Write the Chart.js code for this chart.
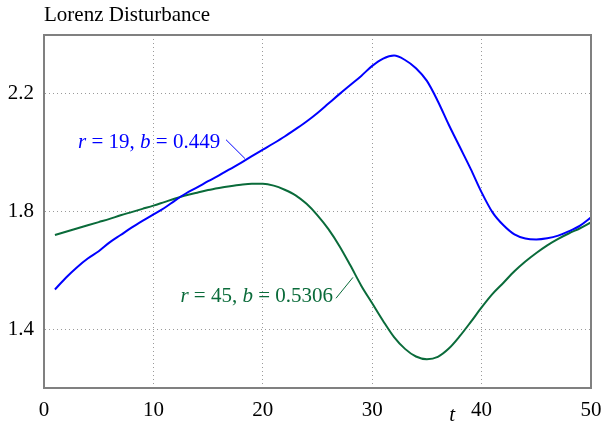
<!DOCTYPE html>
<html>
<head>
<meta charset="utf-8">
<script src="https://cdn.jsdelivr.net/npm/chart.js@4/dist/chart.umd.min.js"></script>
<style>
  html, body { margin: 0; padding: 0; background: #fff; }
  #wrap { position: relative; width: 602px; height: 425px; }
</style>
</head>
<body>
<div id="wrap"><canvas id="chart" width="602" height="425"></canvas></div>
<script>
const tValues = [];
for (let i = 1; i <= 50; i++) tValues.push(i);

// r = 19, b = 0.449
const blueSeries = [
  1.535, 1.575, 1.61, 1.64, 1.665, 1.695, 1.72, 1.745, 1.768, 1.79,
  1.812, 1.838, 1.862, 1.882, 1.903, 1.923, 1.944, 1.965, 1.988, 2.01,
  2.032, 2.055, 2.08, 2.106, 2.135, 2.167, 2.199, 2.23, 2.261, 2.295,
  2.32, 2.33, 2.315, 2.287, 2.244, 2.175, 2.095, 2.02, 1.945, 1.865,
  1.797, 1.753, 1.722, 1.708, 1.705, 1.709, 1.718, 1.733, 1.752, 1.78
];

// r = 45, b = 0.5306
const greenSeries = [
  1.72, 1.731, 1.742, 1.753, 1.764, 1.775, 1.787, 1.798, 1.809, 1.82,
  1.832, 1.844, 1.855, 1.864, 1.873, 1.88, 1.886, 1.891, 1.894, 1.894,
  1.888, 1.874, 1.855, 1.826, 1.787, 1.74, 1.683, 1.617, 1.548, 1.488,
  1.428, 1.373, 1.333, 1.307, 1.298, 1.306, 1.334, 1.376, 1.424, 1.474,
  1.52, 1.558, 1.597, 1.63, 1.659, 1.685, 1.707, 1.726, 1.743, 1.763
];

const xTickValues = [0, 10, 20, 30, 40, 50];
const yTickValues = [1.4, 1.8, 2.2];

const BLUE = "#0000ff";
const GREEN = "#0a6b3a";
const SERIF = "'Liberation Serif', 'Times New Roman', serif";
const FS = 21;

// label pieces: [text, italic]
const blueLabel = [["r", true], [" = 19, ", false], ["b", true], [" = 0.449", false]];
const greenLabel = [["r", true], [" = 45, ", false], ["b", true], [" = 0.5306", false]];

const toPoints = (ys) => ys.map((y, i) => ({ x: tValues[i], y: y }));

function drawLabel(ctx, pieces, rightX, baseY, color) {
  let total = 0;
  pieces.forEach(([txt, it]) => {
    ctx.font = (it ? "italic " : "") + FS + "px " + SERIF;
    total += ctx.measureText(txt).width;
  });
  let x = rightX - total;
  ctx.fillStyle = color;
  ctx.textBaseline = "alphabetic";
  ctx.textAlign = "left";
  pieces.forEach(([txt, it]) => {
    ctx.font = (it ? "italic " : "") + FS + "px " + SERIF;
    ctx.fillText(txt, x, baseY);
    x += ctx.measureText(txt).width;
  });
}

const decorations = {
  id: "decorations",
  afterDraw(chart) {
    const { ctx, chartArea: a, scales } = chart;
    const xs = scales.x, ys = scales.y;
    ctx.save();

    // frame
    ctx.strokeStyle = "#808080";
    ctx.lineWidth = 2;
    ctx.strokeRect(a.left, a.top, a.right - a.left, a.bottom - a.top);

    // title
    ctx.fillStyle = "#000";
    ctx.font = FS + "px " + SERIF;
    ctx.textAlign = "left";
    ctx.textBaseline = "alphabetic";
    ctx.fillText("Lorenz Disturbance", a.left, 21);

    // axis name
    ctx.font = "italic " + FS + "px " + SERIF;
    ctx.textAlign = "center";
    ctx.fillText("t", xs.getPixelForValue(37.3), 421);

    // curve labels with leader lines
    drawLabel(ctx, blueLabel, xs.getPixelForValue(16.1), ys.getPixelForValue(2.017), BLUE);
    ctx.strokeStyle = BLUE;
    ctx.lineWidth = 1;
    ctx.beginPath();
    ctx.moveTo(xs.getPixelForValue(16.64), ys.getPixelForValue(2.044));
    ctx.lineTo(xs.getPixelForValue(18.37), ys.getPixelForValue(1.98));
    ctx.stroke();

    drawLabel(ctx, greenLabel, xs.getPixelForValue(26.42), ys.getPixelForValue(1.4915), GREEN);
    ctx.strokeStyle = GREEN;
    ctx.beginPath();
    ctx.moveTo(xs.getPixelForValue(26.69), ys.getPixelForValue(1.505));
    ctx.lineTo(xs.getPixelForValue(28.24), ys.getPixelForValue(1.576));
    ctx.stroke();

    ctx.restore();
  }
};

const gridColor = (ctx) => {
  const v = ctx.tick && ctx.tick.value;
  return (v === 0 || v === 50) ? "rgba(0,0,0,0)" : "#9a9a9a";
};

new Chart(document.getElementById("chart").getContext("2d"), {
  type: "line",
  data: {
    datasets: [
      {
        label: "r = 19, b = 0.449",
        data: toPoints(blueSeries),
        borderColor: BLUE,
        borderWidth: 2,
        pointRadius: 0,
        cubicInterpolationMode: "monotone",
        fill: false
      },
      {
        label: "r = 45, b = 0.5306",
        data: toPoints(greenSeries),
        borderColor: GREEN,
        borderWidth: 2,
        pointRadius: 0,
        cubicInterpolationMode: "monotone",
        fill: false
      }
    ]
  },
  options: {
    responsive: false,
    animation: false,
    layout: { padding: { top: 35, right: 11, left: 0, bottom: 0 } },
    plugins: {
      legend: { display: false },
      tooltip: { enabled: false },
      title: { display: false }
    },
    scales: {
      x: {
        type: "linear",
        min: 0,
        max: 50,
        afterBuildTicks: (scale) => { scale.ticks = xTickValues.map((v) => ({ value: v })); },
        afterFit: (scale) => {
          scale.height = 37;
          scale.paddingLeft = 0;
          scale.paddingRight = 0;
        },
        ticks: {
          color: "#000",
          font: { family: SERIF, size: FS },
          padding: 10,
          maxRotation: 0
        },
        grid: { color: gridColor, lineWidth: 1, drawTicks: false },
        border: { display: true, color: "#808080", width: 2, dash: [1, 3] }
      },
      y: {
        type: "linear",
        min: 1.2,
        max: 2.4,
        afterBuildTicks: (scale) => { scale.ticks = yTickValues.map((v) => ({ value: v })); },
        afterFit: (scale) => {
          scale.width = 44;
          scale.paddingTop = 0;
          scale.paddingBottom = 0;
        },
        ticks: {
          color: "#000",
          font: { family: SERIF, size: FS },
          padding: 10,
          callback: (v) => v.toFixed(1)
        },
        grid: { color: "#9a9a9a", lineWidth: 1, drawTicks: false },
        border: { display: true, color: "#808080", width: 2, dash: [1, 3] }
      }
    }
  },
  plugins: [decorations]
});
</script>
</body>
</html>
